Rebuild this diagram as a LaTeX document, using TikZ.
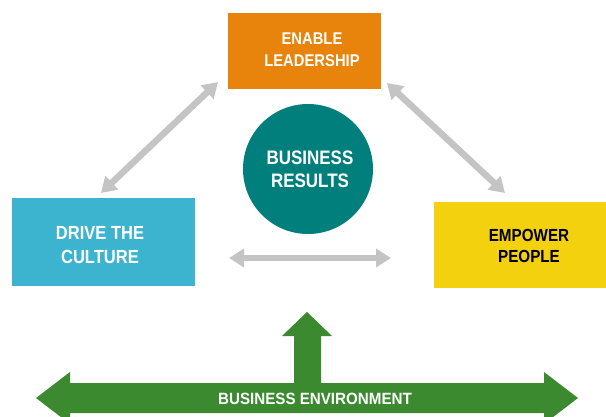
\documentclass[tikz,border=0pt]{standalone}
\usepackage{fontspec}
\setmainfont{Liberation Sans}
\newfontfamily\condfont{Liberation Sans}[FakeStretch=0.87]
\newfontfamily\envfont{Liberation Sans}[FakeStretch=0.93]
\usetikzlibrary{arrows.meta}
\definecolor{cOrange}{HTML}{E8830C}
\definecolor{cBlue}{HTML}{3CB4CF}
\definecolor{cYellow}{HTML}{F3D10E}
\definecolor{cTeal}{HTML}{017F7C}
\definecolor{cGreen}{HTML}{3C8A30}
\definecolor{cGray}{HTML}{C4C4C4}
\tikzset{
  boxtxt/.style={align=center, inner sep=0pt},
  grayarrow/.style={draw=cGray, line width=6.5pt,
    {Triangle[length=15pt 0 0,width=18pt 0 0]}-{Triangle[length=15pt 0 0,width=18pt 0 0]}},
}
\begin{document}
\begin{tikzpicture}[x=1pt,y=-1pt]
\useasboundingbox (0,0) rectangle (606,416);
\clip (0,0) rectangle (606,416);
% boxes
\fill[cOrange] (228,13) rectangle (381,89);
\node[boxtxt, text=white, font=\condfont\bfseries\fontsize{17}{22}\selectfont] (lead) at (312,50) {ENABLE\\LEADERSHIP};
\fill[cBlue] (12,198) rectangle (195,286);
\node[boxtxt, text=white, font=\condfont\bfseries\fontsize{19}{24}\selectfont] (cult) at (100,245) {DRIVE THE\\CULTURE};
\fill[cYellow] (434,202) rectangle (606,288);
\node[boxtxt, text=black, font=\condfont\bfseries\fontsize{17.5}{21}\selectfont] (emp) at (529,245.5) {EMPOWER\\PEOPLE};
% circle
\node[circle, fill=cTeal, minimum size=130pt, inner sep=0pt] (circ) at (308,169) {};
\node[boxtxt, text=white, font=\condfont\bfseries\fontsize{19.5}{23}\selectfont] (res) at (310,169.5) {BUSINESS\\RESULTS};
% gray arrows
\coordinate (a1) at (218,82);
\coordinate (a2) at (101,193);
\coordinate (b1) at (387,83);
\coordinate (b2) at (505,193);
\coordinate (c1) at (229,258);
\coordinate (c2) at (391,258);
\draw[grayarrow] (a2) -- (a1);
\draw[grayarrow] (b1) -- (b2);
\draw[grayarrow] (c1) -- (c2);
% green arrows
\fill[cGreen] (36,398) -- (70,372) -- (70,383) -- (294,383) -- (294,336) -- (282,336)
  -- (307,312) -- (332,336) -- (321,336) -- (321,383) -- (544,383) -- (544,372)
  -- (578,398) -- (544,424) -- (544,413) -- (70,413) -- (70,424) -- cycle;
\node[boxtxt, text=white, font=\envfont\bfseries\fontsize{16.3}{18}\selectfont] (env) at (315,398.5) {BUSINESS ENVIRONMENT};
\end{tikzpicture}
\end{document}
